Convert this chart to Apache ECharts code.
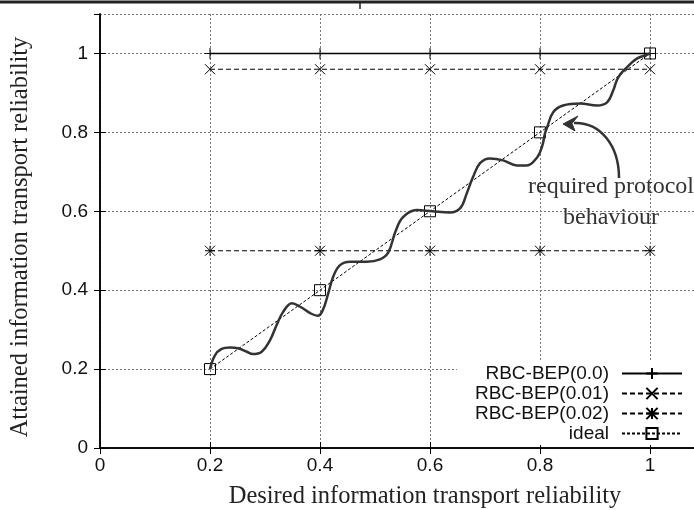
<!DOCTYPE html>
<html>
<head>
<meta charset="utf-8">
<script src="https://cdn.jsdelivr.net/npm/echarts@6/dist/echarts.min.js"></script>
<style>
  html, body { margin: 0; padding: 0; background: #fff; }
  #main { width: 694px; height: 510px; }
</style>
</head>
<body>
<div id="main"></div>
<script>
// desired reliability where each protocol was run
var desired = [0.2, 0.4, 0.6, 0.8, 1.0];
var bep00 = [1.0, 1.0, 1.0, 1.0, 1.0];
var bep001 = [0.96, 0.96, 0.96, 0.96, 0.96];
var bep002 = [0.5, 0.5, 0.5, 0.5, 0.5];
var ideal = [0.2, 0.4, 0.6, 0.8, 1.0];

// the hand drawn "required protocol behaviour" curve
var waveX = [0.2, 0.209, 0.221, 0.236, 0.251, 0.267, 0.278, 0.294, 0.309, 0.321, 0.333, 0.349,
  0.364, 0.382, 0.396, 0.405, 0.415, 0.424, 0.436, 0.455, 0.485, 0.509, 0.524, 0.537,
  0.551, 0.576, 0.604, 0.636, 0.655, 0.667, 0.678, 0.691, 0.709, 0.733, 0.758, 0.776, 0.795,
  0.804, 0.809, 0.813, 0.824, 0.842, 0.873, 0.904, 0.922, 0.933, 0.942, 0.958, 0.976, 0.995, 1.0];
var waveY = [0.2, 0.235, 0.251, 0.255, 0.253, 0.244, 0.238, 0.244, 0.273, 0.311, 0.345, 0.367,
  0.358, 0.342, 0.335, 0.349, 0.392, 0.434, 0.463, 0.472, 0.472, 0.478, 0.495, 0.548,
  0.585, 0.603, 0.600, 0.597, 0.608, 0.646, 0.686, 0.722, 0.734, 0.729, 0.716, 0.716, 0.737,
  0.765, 0.797, 0.813, 0.851, 0.868, 0.873, 0.868, 0.876, 0.906, 0.939, 0.965, 0.987, 0.997, 1.0];

var names = ['RBC-BEP(0.0)', 'RBC-BEP(0.01)', 'RBC-BEP(0.02)', 'ideal'];

function pairs(xs, ys) {
  return xs.map(function (x, i) { return [x, ys[i]]; });
}

var sans = 'Liberation Sans, Arial, sans-serif';
var serif = 'Liberation Serif, Times New Roman, serif';

var plus = 'path://M5,0V10M0,5H10';
var cross = 'path://M0,0L10,10M10,0L0,10';
var star = 'path://M5,0V10M0,5H10M0,0L10,10M10,0L0,10';
var square = 'path://M0,0H10V10H0Z';

function markStyle() {
  return { color: 'transparent', borderColor: '#000', borderWidth: 1 };
}

var gridLine = { show: true, lineStyle: { color: '#777', type: [2, 2], width: 1 } };
var frameLine = { show: true, lineStyle: { color: '#000', width: 1.5 } };
var inTick = { show: true, inside: true, length: 6, lineStyle: { color: '#000', width: 1 } };

var chart = echarts.init(document.getElementById('main'));
chart.setOption({
  animation: false,
  backgroundColor: '#fff',
  grid: { left: 100, right: -11, top: 14, bottom: 62, containLabel: false, outerBoundsMode: 'none' },
  xAxis: [{
    type: 'value', min: 0, max: 1.1, interval: 0.2,
    name: 'Desired information transport reliability',
    nameLocation: 'middle', nameGap: 36,
    nameTextStyle: { fontFamily: serif, fontSize: 24.5, color: '#222', padding: [0, 0, 0, 45] },
    axisLine: frameLine, axisTick: inTick, splitLine: gridLine,
    axisLabel: { fontFamily: sans, fontSize: 19, color: '#111', margin: 8, showMaxLabel: false }
  }, {
    type: 'value', min: 0, max: 1.1, interval: 0.2, position: 'top',
    axisLine: frameLine, axisTick: inTick, splitLine: { show: false }, axisLabel: { show: false }
  }],
  yAxis: [{
    type: 'value', min: 0, max: 1.1, interval: 0.2,
    name: 'Attained information transport reliability',
    nameLocation: 'middle', nameGap: 67,
    nameTextStyle: { fontFamily: serif, fontSize: 24.5, color: '#222', padding: [0, 12, 0, 0] },
    axisLine: frameLine, axisTick: inTick, splitLine: gridLine,
    axisLabel: { fontFamily: sans, fontSize: 19, color: '#111', margin: 12, showMaxLabel: false }
  }, {
    type: 'value', min: 0, max: 1.1, interval: 0.2, position: 'right',
    axisLine: frameLine, axisTick: inTick, splitLine: { show: false }, axisLabel: { show: false }
  }],
  legend: {
    data: names,
    orient: 'vertical', align: 'right',
    right: 0, top: 362,
    padding: [2, 11, 2, 18],
    backgroundColor: '#fff',
    itemWidth: 60, itemHeight: 14, itemGap: 1,
    textStyle: { fontFamily: sans, fontSize: 19, color: '#111', padding: [0, 8, 0, 0] }
  },
  series: [
    {
      name: names[0], type: 'line', data: pairs(desired, bep00),
      symbol: plus, symbolSize: 11, itemStyle: markStyle(),
      lineStyle: { color: '#000', width: 1.5 }, z: 3
    },
    {
      name: names[1], type: 'line', data: pairs(desired, bep001),
      symbol: cross, symbolSize: 10, itemStyle: markStyle(),
      lineStyle: { color: '#000', width: 1.2, type: [5, 3] }, z: 3
    },
    {
      name: names[2], type: 'line', data: pairs(desired, bep002),
      symbol: star, symbolSize: 10, itemStyle: markStyle(),
      lineStyle: { color: '#000', width: 1.2, type: [5, 3] }, z: 3
    },
    {
      name: names[3], type: 'line', data: pairs(desired, ideal),
      symbol: square, symbolSize: 11, itemStyle: markStyle(),
      lineStyle: { color: '#000', width: 1, type: [3, 2] }, z: 3
    },
    {
      name: 'required protocol behaviour', type: 'line', data: pairs(waveX, waveY),
      symbol: 'none', smooth: 0.4,
      lineStyle: { color: '#333', width: 2.5 }, z: 4
    }
  ],
  graphic: [
    // rule of the page above the figure
    { type: 'line', shape: { x1: 0, y1: 2, x2: 694, y2: 2 }, style: { stroke: '#222', lineWidth: 3 } },
    { type: 'line', shape: { x1: 360, y1: 2, x2: 360, y2: 9 }, style: { stroke: '#222', lineWidth: 1.5 } },
    // annotation
    {
      type: 'text', x: 611, y: 175, z: 10,
      style: { text: 'required protocol', font: '24px ' + serif, fill: '#333', align: 'center', verticalAlign: 'top' }
    },
    {
      type: 'text', x: 611, y: 206, z: 10,
      style: { text: 'behaviour', font: '24px ' + serif, fill: '#333', align: 'center', verticalAlign: 'top' }
    },
    {
      type: 'bezierCurve', z: 10,
      shape: { x1: 619, y1: 178, cpx1: 619, cpy1: 145, cpx2: 600, cpy2: 122, x2: 574, y2: 123 },
      style: { stroke: '#333', lineWidth: 2.5, fill: null }
    },
    {
      type: 'polygon', z: 10,
      shape: { points: [[563, 124], [578, 116], [572, 123.5], [575, 131]] },
      style: { fill: '#333', stroke: '#333', lineWidth: 1 }
    }
  ]
});
</script>
</body>
</html>
